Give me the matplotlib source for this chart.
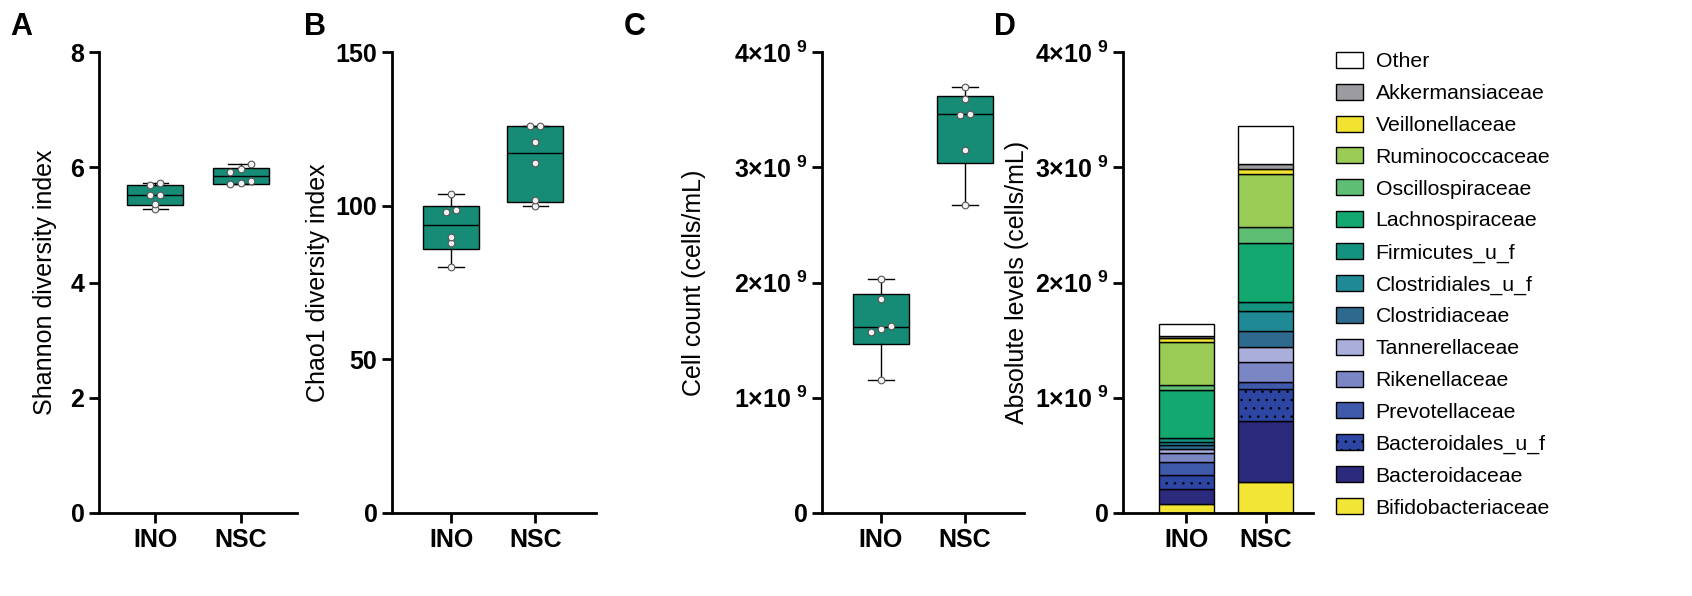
import numpy as np
import matplotlib
matplotlib.use('Agg')
import matplotlib.pyplot as plt
from matplotlib.patches import Patch

plt.rcParams['font.family'] = ['Liberation Sans', 'DejaVu Sans']
plt.rcParams['mathtext.fontset'] = 'custom'
plt.rcParams['mathtext.rm'] = 'Liberation Sans'
plt.rcParams['mathtext.bf'] = 'Liberation Sans:bold'
plt.rcParams['hatch.linewidth'] = 0.6

# ---------------- data ----------------
groups = ['INO', 'NSC']

shannon_ino = [5.28, 5.37, 5.51, 5.52, 5.69, 5.72]
shannon_nsc = [5.71, 5.72, 5.76, 5.92, 5.97, 6.05]

chao1_ino = [79.9, 87.8, 89.8, 97.9, 98.7, 103.9]
chao1_nsc = [99.9, 101.8, 113.8, 120.7, 125.8, 125.8]

cells_ino = [1.151e9, 1.569e9, 1.600e9, 1.625e9, 1.853e9, 2.034e9]
cells_nsc = [2.672e9, 3.154e9, 3.450e9, 3.466e9, 3.594e9, 3.700e9]

families = ['Bifidobacteriaceae', 'Bacteroidaceae', 'Bacteroidales_u_f',
            'Prevotellaceae', 'Rikenellaceae', 'Tannerellaceae',
            'Clostridiaceae', 'Clostridiales_u_f', 'Firmicutes_u_f',
            'Lachnospiraceae', 'Oscillospiraceae', 'Ruminococcaceae',
            'Veillonellaceae', 'Akkermansiaceae', 'Other']
abs_ino = [0.080e9, 0.132e9, 0.114e9, 0.120e9, 0.076e9, 0.032e9,
           0.038e9, 0.028e9, 0.032e9, 0.419e9, 0.040e9, 0.373e9,
           0.032e9, 0.022e9, 0.101e9]
abs_nsc = [0.273e9, 0.525e9, 0.277e9, 0.059e9, 0.178e9, 0.132e9,
           0.132e9, 0.178e9, 0.081e9, 0.508e9, 0.140e9, 0.457e9,
           0.046e9, 0.040e9, 0.328e9]
family_colors = ['#f3e535', '#2b2a7d', '#2d45a3', '#3f59ab', '#7b86c5',
                 '#aaaedb', '#2e6a8e', '#1f8a96', '#13937f', '#13a86f',
                 '#5dbe74', '#99cb55', '#f2e331', '#9b9ba0', '#ffffff']

big_ticks = [0, 1e9, 2e9, 3e9, 4e9]
big_tick_labels = ['0', r'$\mathbf{1{\times}10^{\ 9}}$', r'$\mathbf{2{\times}10^{\ 9}}$',
                   r'$\mathbf{3{\times}10^{\ 9}}$', r'$\mathbf{4{\times}10^{\ 9}}$']

# ---------------- style ----------------
TEAL = '#168b75'
FS = 18
LFS = 15.3
SPW = 2.0

fig = plt.figure(figsize=(16.92, 5.96), dpi=100)
W, H = 1692, 596


def ax_at(x0, x1, y_top=52, y_bot=513):
    return fig.add_axes([x0 / W, (H - y_bot) / H, (x1 - x0) / W, (y_bot - y_top) / H])


def style(ax):
    for s in ['top', 'right']:
        ax.spines[s].set_visible(False)
    for s in ['left', 'bottom']:
        ax.spines[s].set_linewidth(SPW)
    ax.tick_params(axis='both', width=SPW, length=7.5, labelsize=FS, pad=3)
    ax.set_xticks([1, 2])
    ax.set_xticklabels(groups, fontweight='bold')
    for t in ax.get_yticklabels():
        t.set_fontweight('bold')


def jitter(vals, span, tol=0.0105, step=0.12):
    vals = np.asarray(vals, float)
    order = np.argsort(vals)
    off = np.zeros(len(vals))
    clusters = [[order[0]]]
    for i in order[1:]:
        if vals[i] - vals[clusters[-1][-1]] <= tol * span:
            clusters[-1].append(i)
        else:
            clusters.append([i])
    for c in clusters:
        k = len(c)
        for j, idx in enumerate(c):
            off[idx] = (j - (k - 1) / 2) * step
    return off


def box_panel(ax, data, ymax):
    stats = []
    for d in data:
        q1, med, q3 = np.percentile(d, [25, 50, 75], method='weibull')
        stats.append(dict(med=med, q1=q1, q3=q3, whislo=min(d), whishi=max(d), fliers=[]))
    ax.bxp(stats, positions=[1, 2], widths=0.66, patch_artist=True, showfliers=False,
           boxprops=dict(facecolor=TEAL, edgecolor='black', linewidth=1.0),
           medianprops=dict(color='black', linewidth=1.0),
           whiskerprops=dict(color='black', linewidth=1.0),
           capprops=dict(color='black', linewidth=1.0), capwidths=0.3)
    for p, d in zip([1, 2], data):
        ax.plot(p + jitter(d, ymax), d, 'o', ms=4.8, mfc='#f2f2f2', mec='#555555',
                mew=0.8, zorder=5, clip_on=False)
    ax.set_ylim(0, ymax)


# A
axA = ax_at(99, 297)
box_panel(axA, [shannon_ino, shannon_nsc], 8)
axA.set_yticks([0, 2, 4, 6, 8])
axA.set_xlim(0.34, 2.66)
axA.set_ylabel('Shannon diversity index', fontsize=FS, labelpad=10)
style(axA)

# B
axB = ax_at(392, 596)
box_panel(axB, [chao1_ino, chao1_nsc], 150)
axB.set_yticks([0, 50, 100, 150])
axB.set_xlim(0.3, 2.72)
axB.set_ylabel('Chao1 diversity index', fontsize=FS, labelpad=4)
style(axB)

# C
axC = ax_at(822, 1024)
box_panel(axC, [cells_ino, cells_nsc], 4e9)
axC.set_yticks(big_ticks)
axC.set_yticklabels(big_tick_labels)
axC.set_xlim(0.3, 2.7)
axC.set_ylabel('Cell count (cells/mL)', fontsize=FS, labelpad=20)
style(axC)

# D
axD = ax_at(1123, 1313)
bottom = np.zeros(2)
handles = []
for fam, vi, vn, col in zip(families, abs_ino, abs_nsc, family_colors):
    hatch = '..' if fam == 'Bacteroidales_u_f' else None
    axD.bar([1, 2], [vi, vn], width=0.7, bottom=bottom, color=col,
            edgecolor='black', linewidth=1.0, hatch=hatch)
    bottom += np.array([vi, vn])
    handles.append(Patch(facecolor=col, edgecolor='black', linewidth=1.0, hatch=hatch, label=fam))
axD.set_ylim(0, 4e9)
axD.set_yticks(big_ticks)
axD.set_yticklabels(big_tick_labels)
axD.set_xlim(0.2, 2.6)
axD.set_ylabel('Absolute levels (cells/mL)', fontsize=FS, labelpad=4)
style(axD)

fig.legend(handles[::-1], [h.get_label() for h in handles[::-1]],
           loc='upper left', bbox_to_anchor=(1336 / W, 1 - 52 / H), frameon=False,
           fontsize=LFS, handlelength=1.25, handleheight=0.78, handletextpad=0.62,
           labelspacing=0.585, borderaxespad=0, borderpad=0)

for letter, x in zip(['A', 'B', 'C', 'D'], [10, 304, 624, 994]):
    fig.text(x / W, 1 - 12 / H, letter, fontsize=22, fontweight='bold', va='top', ha='left')

fig.savefig('out.png', dpi=100)
